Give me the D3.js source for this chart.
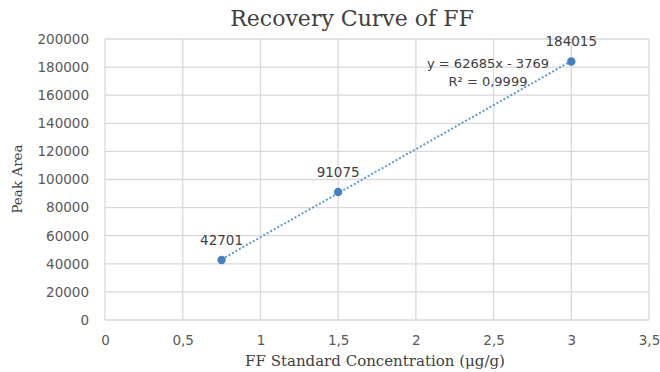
<!DOCTYPE html>
<html><head><meta charset="utf-8">
<script src="https://cdn.jsdelivr.net/npm/d3@7"></script>
<style>body{margin:0;background:#fff}svg{display:block}</style>
</head><body><div id="c"></div>
<script>
const concentrations = [0.75, 1.5, 3];
const peakAreas = [42701, 91075, 184015];
const xTicks = [0, 0.5, 1, 1.5, 2, 2.5, 3, 3.5];
const yTicks = [0, 20000, 40000, 60000, 80000, 100000, 120000, 140000, 160000, 180000, 200000];
const trendSlope = 62685, trendIntercept = -3769;
const equationText = "y = 62685x - 3769";
const r2Text = "R² = 0,9999";

const W = 660, H = 372;
const svg = d3.select("#c").append("svg").attr("width", W).attr("height", H);
const x = d3.scaleLinear().domain([0, 3.5]).range([105, 649]);
const y = d3.scaleLinear().domain([0, 200000]).range([320, 39]);
const fmtX = d => d3.format("")(d).replace(".", ",");
const sans = "'DejaVu Sans', Verdana, sans-serif";
const serif = "'DejaVu Serif', 'Liberation Serif', serif";

// gridlines
svg.append("g").selectAll("line").data(yTicks).join("line")
  .attr("x1", x(0)).attr("x2", x(3.5)).attr("y1", d => y(d)).attr("y2", d => y(d))
  .attr("stroke", "#d9d9d9").attr("stroke-width", 1.3);
svg.append("g").selectAll("line").data(xTicks).join("line")
  .attr("y1", y(0)).attr("y2", y(200000)).attr("x1", d => x(d)).attr("x2", d => x(d))
  .attr("stroke", "#d9d9d9").attr("stroke-width", 1.3);

// axes via d3
const yAxis = svg.append("g").attr("transform", `translate(${x(0)},0)`)
  .call(d3.axisLeft(y).tickValues(yTicks).tickSize(0).tickPadding(16).tickFormat(d3.format("d")));
const xAxis = svg.append("g").attr("transform", `translate(0,${y(0)})`)
  .call(d3.axisBottom(x).tickValues(xTicks).tickSize(0).tickPadding(15).tickFormat(fmtX));
[yAxis, xAxis].forEach(a => {
  a.select(".domain").remove();
  a.selectAll("text").attr("fill", "#595959").style("font-family", sans).style("font-size", "13.5px");
});

// trendline
const tx = d3.extent(concentrations);
svg.append("line")
  .attr("x1", x(tx[0])).attr("y1", y(trendSlope * tx[0] + trendIntercept))
  .attr("x2", x(tx[1])).attr("y2", y(trendSlope * tx[1] + trendIntercept))
  .attr("stroke", "#5b9bd5").attr("stroke-width", 2).attr("stroke-dasharray", "2,2");

// points
const pts = concentrations.map((c, i) => ({c, v: peakAreas[i]}));
svg.append("g").selectAll("circle").data(pts).join("circle")
  .attr("cx", d => x(d.c)).attr("cy", d => y(d.v)).attr("r", 4.2).attr("fill", "#4580c6");

// data labels
svg.append("g").selectAll("text").data(pts).join("text")
  .attr("x", d => x(d.c)).attr("y", d => y(d.v) - 15)
  .attr("text-anchor", "middle").attr("fill", "#404040")
  .style("font-family", sans).style("font-size", "13.5px").text(d => d.v);

// equation
svg.append("text").attr("x", 488).attr("y", 68).attr("text-anchor", "middle")
  .attr("fill", "#404040").style("font-family", sans).style("font-size", "13px").text(equationText);
svg.append("text").attr("x", 488).attr("y", 86).attr("text-anchor", "middle")
  .attr("fill", "#404040").style("font-family", sans).style("font-size", "13px").text(r2Text);

// titles
svg.append("text").attr("x", 352).attr("y", 26).attr("text-anchor", "middle")
  .attr("fill", "#404040").style("font-family", serif).style("font-size", "22px").text("Recovery Curve of FF");
svg.append("text").attr("x", 375).attr("y", 366).attr("text-anchor", "middle")
  .attr("fill", "#404040").style("font-family", serif).style("font-size", "15px").text("FF Standard Concentration (μg/g)");
svg.append("text").attr("transform", "translate(22,179) rotate(-90)").attr("text-anchor", "middle")
  .attr("fill", "#404040").style("font-family", serif).style("font-size", "13.5px").text("Peak Area");
</script></body></html>
